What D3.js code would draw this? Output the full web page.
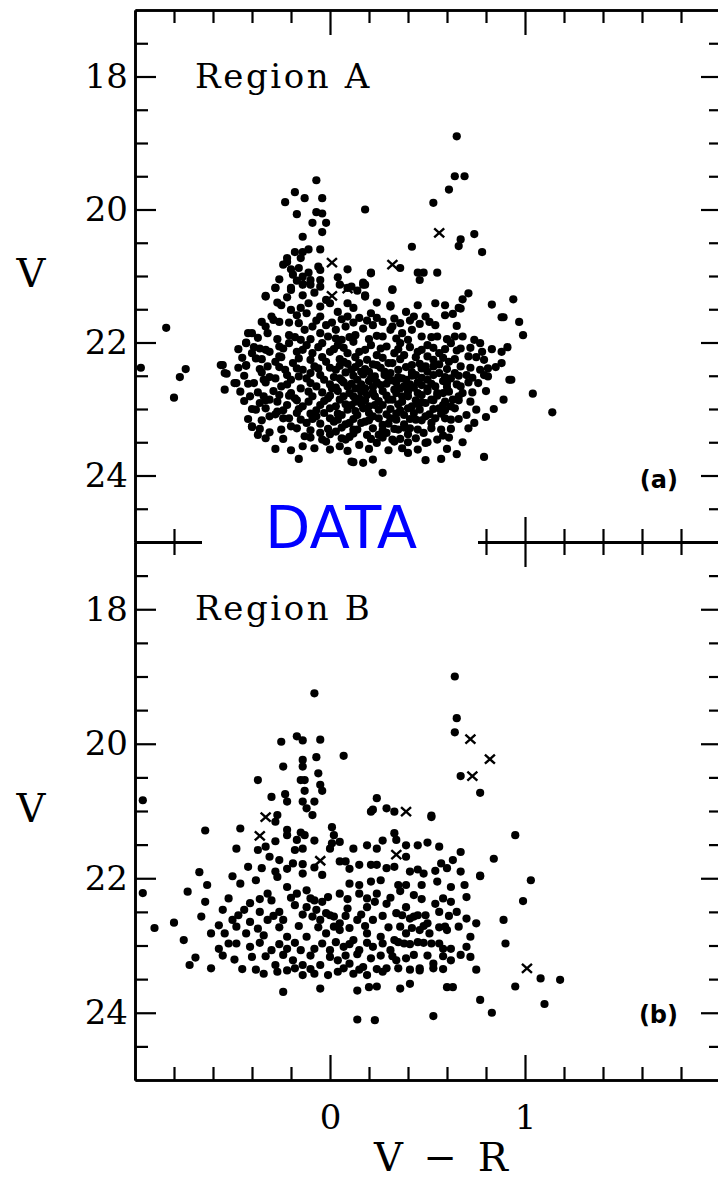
<!DOCTYPE html>
<html>
<head>
<meta charset="utf-8">
<script src="https://cdn.jsdelivr.net/npm/d3@7"></script>
<style>
  body { margin: 0; background: #fff; }
  svg { display: block; }
</style>
</head>
<body>
<svg id="chart"></svg>
<script>
'use strict'

// ---- data (V-R colour, V magnitude) ----
const xMajorTicks = [0, 1]
const xMinorTicks = [-0.8, -0.6, -0.4, -0.2, 0.2, 0.4, 0.6, 0.8, 1.2, 1.4, 1.6, 1.8]
const yMajorTicks = [18, 20, 22, 24]
const yMinorTicks = [17.5, 18.5, 19, 19.5, 20.5, 21, 21.5, 22.5, 23, 23.5, 24.5]

// region A: outskirts and plume
const regionADots = [
  [0.65,18.9],[0.64,19.5],[0.69,19.5],[0.61,19.7],[0.53,19.9],[0.18,20.0],
  [0.67,20.45],[0.66,20.55],[0.74,20.37],[0.78,20.64],[0.42,20.56],
  [0.36,20.88],[0.21,20.95],[0.17,21.1],[0.45,20.95],[0.48,20.95],[0.46,21.06],[0.55,20.95],[0.32,21.2],
  [0.71,21.26],[0.68,21.35],[0.66,21.48],[0.94,21.35],[0.83,21.43],[0.89,21.62],[0.97,21.69],[0.99,21.89],
  [0.88,22.14],[0.91,22.07],[0.88,22.31],[0.93,22.56],[1.04,22.77],[1.14,23.05],[0.89,22.86],[0.84,23.0],
  [0.8,23.12],[0.74,23.21],[0.7,23.09],[0.71,23.29],[0.68,23.5],[0.58,23.4],[0.79,23.72],[0.65,23.68],
  [0.57,23.75],[0.49,23.77],[0.4,23.66],[0.5,23.5],[0.4,23.5],
  [-0.84,21.78],[-0.74,22.4],[-0.77,22.52],[-0.8,22.83],[-0.97,22.38],[-0.56,22.34],[-0.53,22.47],
  [-0.54,22.71],[-0.48,22.61],[-0.43,22.35],[-0.42,21.86],[-0.43,22.0],[-0.33,21.3],[-0.28,21.18],
  [-0.4,23.27],[-0.37,23.39],[-0.31,23.35],[-0.16,23.75],[0.12,23.8],
  [-0.07,19.56],[-0.18,19.74],[-0.23,19.89],[-0.13,19.83],[-0.04,19.83],[-0.17,20.07],[-0.07,20.04],
  [-0.04,20.06],[-0.09,20.2],[-0.02,20.2],[-0.04,20.34],[-0.14,20.41],[-0.05,20.6],[-0.11,20.6],
  [-0.14,20.64],[-0.18,20.64],[-0.22,20.73],[-0.22,20.79],[-0.15,20.73],[-0.16,20.88],[-0.06,20.86],
  [0.09,20.9],[-0.19,20.98],
  [-0.14,21.01],[-0.1,21.06],[-0.05,20.91],[0.21,20.96],[0.17,21.13],[-0.2,21.18],[-0.14,21.13],
  [-0.05,21.06],[0.05,21.13],[0.11,21.16],[0.18,21.31],
  [-0.28,21.18],[-0.33,21.31],[-0.2,21.21],[-0.14,21.29],[-0.1,21.13],[-0.05,21.16],[0.09,21.18],
  [0.18,21.29],[0.18,21.13],[0.32,21.21],
  [-0.24,20.83],[-0.2,20.9],[-0.11,20.95],[-0.26,21.05],[-0.17,21.07],[-0.22,21.32],[-0.08,21.25],
  [0.04,21.02],[0.14,21.22],[0.24,21.4],[-0.27,21.4],[-0.15,21.48],[-0.02,21.36],[0.12,21.48],
  [-0.25,21.44],[-0.2,21.51],[-0.17,21.59],[-0.11,21.41],[-0.12,21.56],[-0.05,21.46],[-0.05,21.61],
  [0.0,21.41],[0.04,21.54],[0.09,21.41],[0.09,21.61],[0.15,21.63],[0.21,21.56],[0.24,21.63],[0.31,21.46],[-0.3,21.61],
  [-0.4,21.86],[-0.33,21.76],[-0.32,21.86],[-0.26,21.69],[-0.16,21.71],[-0.13,21.81],[-0.09,21.76],
  [-0.05,21.86],[-0.02,21.74],[0.03,21.81],[0.08,21.76],[0.13,21.89],[0.17,21.79],[0.22,21.74],
  [0.27,21.91],[0.31,21.81],[-0.21,21.89]
]

// region A: dense core of the diagram
const regionACore = [
  [-0.43,22.01],[-0.4,22.16],[-0.36,22.09],[-0.31,22.14],[-0.26,22.06],[-0.21,22.01],[-0.17,22.14],
  [-0.12,22.04],[-0.09,22.16],[-0.04,22.01],[0.0,22.14],[0.04,22.04],[0.09,22.16],[0.12,21.99],
  [0.15,22.14],[0.21,22.04],[0.24,22.19],[0.29,22.06],[0.33,22.16],[-0.15,21.96],[0.03,21.94],[-0.26,22.21],
  [-0.43,22.34],[-0.38,22.24],[-0.32,22.36],[-0.28,22.29],[-0.23,22.41],[-0.19,22.31],[-0.14,22.41],
  [-0.1,22.26],[-0.06,22.39],[-0.02,22.29],[0.03,22.41],[0.07,22.29],[0.11,22.41],[0.15,22.31],
  [0.2,22.44],[0.24,22.34],[0.28,22.44],[0.32,22.31],[-0.55,22.34],[-0.54,22.46],[-0.49,22.61],
  [-0.39,22.61],[-0.34,22.56],[-0.28,22.54],[-0.25,22.66],[-0.2,22.56],[-0.15,22.69],
  [-0.12,22.54],[-0.07,22.66],[-0.03,22.56],[0.01,22.69],[0.05,22.54],[0.09,22.66],[0.14,22.56],
  [0.18,22.69],[0.21,22.54],[0.26,22.64],[0.3,22.54],[0.33,22.71],
  [-0.41,22.81],[-0.36,22.91],[-0.31,22.86],[-0.26,22.79],[-0.22,22.94],[-0.18,22.84],[-0.14,22.96],
  [-0.09,22.81],[-0.05,22.94],[-0.01,22.84],[0.03,22.96],[0.07,22.81],[0.11,22.94],[0.15,22.84],
  [0.2,22.96],[0.23,22.81],[0.27,22.94],[0.32,22.86],
  [-0.38,23.01],[-0.31,23.11],[-0.27,23.04],[-0.21,23.14],[-0.17,23.06],[-0.12,23.21],[-0.07,23.11],
  [-0.03,23.06],[0.02,23.19],[0.06,23.09],[0.1,23.21],[0.14,23.09],[0.18,23.19],[0.22,23.11],
  [0.27,23.24],[0.31,23.14],
  [-0.4,23.26],[-0.2,23.26],[-0.13,23.41],[-0.14,23.56],[-0.05,23.36],
  [-0.02,23.49],[0.03,23.34],[0.08,23.46],[0.12,23.31],[0.15,23.54],[0.19,23.39],[0.24,23.51],
  [0.29,23.36],[0.33,23.49],[0.11,23.79],[0.17,23.81],[0.22,23.76],[0.27,23.96],[0.05,23.56],
  [0.31,21.44],[0.45,21.44],[0.54,21.41],[0.59,21.44],
  [0.33,21.64],[0.39,21.54],[0.43,21.61],[0.49,21.61],[0.51,21.69],[0.54,21.74],[0.59,21.59],
  [0.63,21.57],[0.65,21.75],[0.67,21.49],[0.88,21.62],
  [0.32,21.76],[0.37,21.86],[0.42,21.81],[0.47,21.91],[0.55,21.91],[0.68,21.91],[0.74,21.96],
  [0.77,22.01],[0.36,22.01],[0.5,22.04],[0.62,22.01],[0.67,22.09],
  [0.38,22.19],[0.45,22.14],[0.5,22.21],[0.56,22.16],[0.61,22.29],[0.71,22.21],
  [0.78,22.14],[0.79,22.26],[0.42,22.34],[0.49,22.36],[0.67,22.36],
  [0.37,22.54],[0.44,22.49],[0.5,22.56],[0.56,22.46],[0.62,22.54],[0.7,22.49],
  [0.76,22.61],[0.81,22.51],[0.81,22.39],[0.92,22.56],[0.38,22.66],[0.47,22.64],[0.54,22.66],[0.67,22.66],
  [0.4,22.81],[0.45,22.76],[0.52,22.86],[0.58,22.76],[0.63,22.86],[0.68,22.76],
  [0.42,22.96],[0.49,22.91],[0.56,22.99],[0.62,22.96],
  [0.38,23.09],[0.44,23.16],[0.49,23.11],[0.59,23.14],
  [0.35,23.31],[0.41,23.29],[0.48,23.36],[0.32,23.46],[0.49,23.51],
  [-0.35,21.69],[-0.29,21.66],[-0.21,21.7],[-0.07,21.67],[0.01,21.7],[0.06,21.65],[0.12,21.7],
  [0.19,21.67],[0.27,21.69],[0.36,21.71],[0.41,21.67],[0.46,21.72],
  [-0.37,21.93],[-0.27,21.95],[-0.18,21.92],[-0.1,21.95],[-0.01,21.91],[0.06,21.96],[0.1,21.92],
  [0.2,21.95],[0.24,21.9],[0.34,21.94],[0.4,21.96],[0.52,21.92],[0.6,21.95],[0.64,21.91],
  [-0.47,22.1],[-0.39,22.07],[-0.33,22.11],[-0.24,22.09],[-0.14,22.11],[-0.06,22.07],[0.02,22.1],
  [0.07,22.08],[0.18,22.11],[0.26,22.09],[0.35,22.1],[0.41,22.07],[0.47,22.11],[0.53,22.08],
  [0.59,22.1],[0.65,22.12],[0.72,22.08],[0.83,22.1],
  [-0.45,22.23],[-0.35,22.25],[-0.25,22.22],[-0.16,22.24],[-0.04,22.22],[0.05,22.25],[0.13,22.22],
  [0.19,22.26],[0.27,22.23],[0.36,22.25],[0.44,22.22],[0.53,22.26],[0.58,22.23],[0.64,22.25],[0.75,22.22],
  [-0.47,22.38],[-0.36,22.4],[-0.26,22.37],[-0.17,22.39],[-0.08,22.36],[0.0,22.38],[0.05,22.35],
  [0.13,22.37],[0.18,22.4],[0.26,22.38],[0.35,22.41],[0.39,22.37],[0.47,22.39],[0.53,22.36],
  [0.6,22.4],[0.72,22.38],[0.77,22.41],[0.85,22.37],
  [-0.44,22.5],[-0.31,22.52],[-0.22,22.49],[-0.16,22.51],[-0.05,22.49],[0.02,22.52],[0.12,22.5],
  [0.17,22.48],[0.23,22.51],[0.28,22.49],[0.35,22.52],[0.42,22.5],[0.47,22.53],[0.53,22.49],
  [0.59,22.52],[0.66,22.5],[0.73,22.53],[0.79,22.49],
  [-0.42,22.62],[-0.33,22.6],[-0.22,22.63],[-0.1,22.61],[0.0,22.63],[0.07,22.6],[0.11,22.62],
  [0.16,22.63],[0.24,22.6],[0.29,22.62],[0.34,22.6],[0.41,22.63],[0.45,22.6],[0.52,22.62],
  [0.6,22.61],[0.65,22.63],[0.71,22.6],
  [-0.46,22.74],[-0.37,22.75],[-0.29,22.73],[-0.2,22.76],[-0.11,22.74],[-0.04,22.75],[0.04,22.73],
  [0.1,22.76],[0.16,22.74],[0.22,22.75],[0.27,22.73],[0.34,22.76],[0.4,22.74],[0.5,22.73],
  [0.55,22.76],[0.61,22.74],[0.73,22.75],[0.8,22.73],
  [-0.44,22.88],[-0.33,22.87],[-0.27,22.89],[-0.17,22.87],[-0.11,22.89],[-0.03,22.88],[0.05,22.86],
  [0.13,22.89],[0.18,22.87],[0.25,22.88],[0.3,22.86],[0.37,22.89],[0.44,22.87],[0.47,22.9],
  [0.53,22.87],[0.59,22.89],[0.66,22.87],[0.72,22.89],
  [-0.4,23.0],[-0.33,22.99],[-0.24,23.02],[-0.16,23.0],[-0.07,23.02],[0.0,22.99],[0.09,23.01],
  [0.13,23.03],[0.17,22.99],[0.25,23.01],[0.31,23.0],[0.36,23.02],[0.4,22.99],[0.46,23.01],
  [0.53,23.0],[0.59,23.02],[0.64,22.99],[0.75,23.01],
  [-0.42,23.15],[-0.35,23.17],[-0.24,23.14],[-0.15,23.16],[-0.09,23.15],[0.0,23.14],[0.04,23.16],
  [0.12,23.15],[0.2,23.17],[0.25,23.14],[0.34,23.16],[0.41,23.15],[0.47,23.17],[0.54,23.14],
  [0.62,23.16],[0.66,23.15],
  [-0.36,23.3],[-0.25,23.31],[-0.17,23.29],[-0.1,23.32],[-0.01,23.3],[0.06,23.28],[0.14,23.31],
  [0.22,23.29],[0.27,23.32],[0.33,23.3],[0.38,23.28],[0.45,23.31],[0.52,23.29],[0.57,23.31],[0.62,23.3],
  [-0.33,23.44],[-0.24,23.45],[-0.1,23.43],[-0.04,23.46],[0.06,23.44],[0.1,23.42],[0.21,23.45],
  [0.27,23.43],[0.36,23.45],[0.44,23.44],[0.55,23.46],[0.61,23.43],
  [-0.28,23.6],[-0.2,23.62],[-0.08,23.59],[0.0,23.61],[0.09,23.63],[0.2,23.6],[0.3,23.62],
  [0.37,23.59],[0.45,23.61],[0.6,23.6],
  [0.09,22.32],[0.22,22.33],[0.3,22.31],[0.46,22.32],[0.56,22.33],
  [0.08,22.45],[0.16,22.44],[0.31,22.46],[0.42,22.45],[0.5,22.44],[0.64,22.46],
  [0.06,22.57],[0.2,22.58],[0.32,22.57],[0.39,22.56],[0.58,22.58],
  [0.03,22.68],[0.13,22.69],[0.22,22.67],[0.36,22.69],[0.43,22.68],[0.5,22.69],[0.6,22.67],
  [0.0,22.8],[0.12,22.81],[0.19,22.79],[0.29,22.8],[0.37,22.81],[0.47,22.79],[0.55,22.8],[0.66,22.81],
  [0.08,22.93],[0.16,22.92],[0.23,22.94],[0.35,22.93],[0.45,22.92],[0.58,22.94],
  [0.04,23.07],[0.2,23.06],[0.29,23.08],[0.34,23.07],[0.43,23.06],[0.51,23.08],[0.57,23.07],
  [-0.05,23.22],[0.08,23.23],[0.16,23.21],[0.3,23.22],[0.38,23.23],[0.52,23.21],
  [0.0,23.38],[0.12,23.37],[0.25,23.39],[0.4,23.38],
  [-0.35,22.45],[-0.1,22.46],[-0.21,22.8],[-0.34,22.81],[-0.1,23.07],[-0.28,23.08]
]
const regionACrosses = [[0.56,20.35],[0.32,20.83],[0.01,20.8],[-0.12,21.11],[0.01,21.3],[0.09,21.19]]

const regionBDots = [
  [0.64,19.0],[0.65,19.62],[0.64,19.83],[0.67,20.48],[0.77,20.73],[-0.08,19.25],
  [-0.96,20.84],[-0.96,22.22],[-0.9,22.74],[0.52,21.07],[0.77,21.97],
  [-0.25,19.97],[-0.17,19.89],[-0.14,19.95],[-0.05,19.94],
  [0.07,20.18],[-0.07,20.2],[-0.14,20.24],[-0.14,20.34],[-0.24,20.34],
  [-0.06,20.44],[-0.37,20.54],[-0.15,20.54],[-0.13,20.54],[-0.05,20.61],[-0.04,20.7],[-0.13,20.7],
  [-0.23,20.75],[-0.3,20.79],
  [-0.22,20.86],[0.24,20.81],[-0.14,20.86],[-0.08,20.86],[-0.12,20.96],[-0.09,21.06],[0.21,21.01],
  [0.29,20.96],[0.33,21.01],[0.52,21.09],[-0.27,21.06],[-0.28,21.16],[0.22,20.98],
  [-0.64,21.29],[-0.46,21.26],[-0.22,21.28],[-0.15,21.32],[-0.13,21.36],[0.01,21.24],[0.02,21.36],
  [0.01,21.48],[0.0,21.56],[-0.22,21.36],[-0.17,21.43],[0.33,21.33],[0.34,21.43],[0.95,21.36],
  [-0.48,21.56],[-0.37,21.58],[-0.33,21.53],[-0.18,21.58],[-0.14,21.56],[0.12,21.56],[0.19,21.51],
  [0.24,21.56],[0.39,21.51],[0.45,21.51],[0.56,21.53],[0.67,21.61],
  [-0.31,21.68],[-0.26,21.73],[-0.19,21.78],[-0.14,21.79],[0.05,21.75],[0.08,21.75],[0.15,21.8],
  [0.21,21.8],[0.24,21.8],[0.33,21.83],[0.39,21.68],[0.63,21.73],[0.84,21.71],[-0.42,21.83],
  [-0.38,22.03],[-0.28,21.9],[-0.14,21.93],[-0.04,21.95],[-0.67,21.91],[-0.5,21.97],[0.41,21.9],
  [0.48,21.93],[0.54,21.89],[0.57,21.78],[0.67,21.9],[0.77,21.96],[1.03,22.03],
  [-0.63,22.1],[-0.46,22.08],[-0.27,21.98],[-0.22,22.13],[-0.17,22.23],[-0.12,22.18],[-0.08,22.33],
  [-0.04,22.35],[0.05,22.23],[0.1,22.08],[0.15,22.1],[0.21,22.05],[0.26,22.03],[0.35,22.1],
  [0.39,22.1],[0.47,22.1],[0.55,22.05],[0.62,22.13],[0.69,22.1],[-0.73,22.2],[-0.32,22.23],
  [-0.3,22.33],[-0.41,22.37],[-0.64,22.35],[0.15,22.23],[0.24,22.23],[0.36,22.19],[0.43,22.25],
  [0.54,22.38],[0.62,22.35],[0.99,22.34],
  [-0.55,22.47],[-0.44,22.47],[-0.36,22.5],[-0.26,22.5],[-0.18,22.4],[-0.12,22.43],[-0.07,22.47],
  [-0.02,22.52],[0.02,22.57],[0.09,22.45],[0.19,22.43],[0.23,22.35],[0.29,22.38],[0.39,22.43],
  [0.45,22.55],[0.56,22.5],[0.65,22.5],[-0.66,22.57],[-0.5,22.62],[-0.41,22.65],[-0.32,22.62],
  [-0.24,22.62],[-0.05,22.62],[0.05,22.67],[0.14,22.62],[0.22,22.62],[0.34,22.52],[0.41,22.6],
  [0.5,22.67],[0.59,22.72],[0.7,22.6],[0.75,22.67],[0.89,22.62],[-0.8,22.66],[-0.57,22.7],
  [-0.61,22.82],[-0.54,22.82],[-0.43,22.82],[-0.37,22.75],[-0.34,22.85],[-0.22,22.87],[-0.12,22.87],
  [-0.02,22.82],[0.05,22.77],[0.12,22.92],[0.19,22.82],[0.26,22.87],[0.33,22.92],[0.39,22.82],
  [0.46,22.77],[0.51,22.82],[0.6,22.77],[0.72,22.87],[-0.75,22.92],[-0.57,23.05],[-0.48,22.97],
  [-0.41,23.02],[-0.3,23.07],[-0.22,23.05],[-0.15,23.07],[-0.08,23.05],[0.0,23.07],[0.07,23.02],
  [0.15,23.07],[0.22,23.02],[0.31,23.07],[0.38,22.97],[0.45,22.95],[0.52,22.97],[0.58,23.05],
  [0.62,23.05],[0.7,23.02],[0.9,22.97],
  [-0.69,23.18],[-0.72,23.29],[-0.61,23.34],[-0.49,23.21],[-0.4,23.17],[-0.28,23.29],[-0.19,23.22],
  [-0.14,23.29],[-0.05,23.29],[0.04,23.22],[0.1,23.27],[0.17,23.32],[0.21,23.19],[0.29,23.34],
  [0.34,23.22],[0.39,23.19],[0.46,23.34],[0.53,23.27],[0.62,23.22],[0.72,23.17],[0.75,23.36],
  [-0.34,23.42],[-0.27,23.39],[-0.22,23.37],[-0.14,23.44],[-0.08,23.42],[-0.01,23.44],[0.04,23.39],
  [0.12,23.42],[0.19,23.44],[0.27,23.39],[0.46,23.37],[0.53,23.34],[1.08,23.49],[1.18,23.51],
  [-0.24,23.69],[-0.05,23.64],[0.14,23.67],[0.2,23.62],[0.24,23.61],[0.36,23.64],[0.41,23.57],
  [0.6,23.62],[0.63,23.62],[0.95,23.61],[0.77,23.81],[1.1,23.87],[0.83,24.0],[0.53,24.05],
  [0.14,24.1],[0.23,24.11],
  [-0.28,21.45],[-0.08,21.44],[0.05,21.46],[0.27,21.44],[0.5,21.47],
  [-0.35,21.85],[-0.22,21.86],[-0.08,21.84],[0.1,21.86],[0.29,21.85],[0.45,21.87],[0.6,21.85],
  [-0.52,22.3],[-0.36,22.31],[-0.2,22.29],[-0.1,22.3],[-0.01,22.28],[0.09,22.31],[0.19,22.3],
  [0.31,22.29],[0.47,22.31],[0.58,22.3],[0.7,22.28],
  [-0.47,22.55],[-0.29,22.56],[-0.14,22.54],[-0.09,22.57],[0.0,22.55],[0.08,22.56],[0.16,22.54],
  [0.27,22.56],[0.37,22.55],[0.43,22.57],[0.49,22.55],[0.61,22.56],
  [-0.48,22.72],[-0.26,22.73],[-0.16,22.71],[-0.06,22.73],[0.02,22.72],[0.1,22.74],[0.18,22.71],
  [0.3,22.73],[0.36,22.72],[0.42,22.74],[0.48,22.71],[0.56,22.73],[0.66,22.72],
  [-0.52,22.97],[-0.36,22.96],[-0.26,22.98],[-0.18,22.96],[-0.04,22.97],[0.03,22.95],[0.1,22.98],
  [0.19,22.96],[0.27,22.97],[0.35,22.95],[0.41,22.98],[0.48,22.96],[0.56,22.97],
  [-0.55,23.15],[-0.33,23.16],[-0.24,23.14],[-0.1,23.15],[0.0,23.17],[0.08,23.15],[0.14,23.13],
  [0.26,23.15],[0.32,23.16],[0.43,23.14],[0.5,23.15],[0.58,23.16],[0.67,23.14],
  [-0.45,23.35],[-0.38,23.36],[-0.18,23.34],[-0.1,23.35],[0.07,23.34],[0.15,23.36],[0.24,23.35],
  [0.35,23.34],[0.41,23.36],[0.58,23.35]
]
const regionBCrosses = [[0.72,19.93],[0.82,20.23],[0.73,20.48],[-0.33,21.09],[-0.36,21.37],
  [-0.05,21.74],[0.39,21.01],[0.34,21.65],[1.01,23.34]]

// ---- layout ----
const width = 718, height = 1183
const serif = 'DejaVu Serif'

const svg = d3.select('#chart').attr('width', width).attr('height', height)
svg.append('rect').attr('width', width).attr('height', height).attr('fill', '#fff')

const x = d3.scaleLinear().domain([-1, 2]).range([135, 720])
const yA = d3.scaleLinear().domain([17, 25]).range([10, 542])
const yB = d3.scaleLinear().domain([17, 25]).range([542, 1080])

function styleAxis(g) {
  g.select('.domain').attr('stroke-width', 2.6)
  g.selectAll('.tick line').attr('stroke-width', 2.2)
  g.attr('font-family', serif).attr('font-size', 34)
}

function drawPanel(y, dots, crosses, name, tag, tagY, bottomLabels) {
  const g = svg.append('g')
  const [top, bottom] = y.range()

  // left axis with labels
  g.append('g').attr('transform', `translate(${x(-1)},0)`)
    .call(d3.axisLeft(y).tickValues(yMajorTicks).tickSize(-21).tickSizeOuter(0).tickPadding(7).tickFormat(d3.format('d')))
    .call(styleAxis)
  g.append('g').attr('transform', `translate(${x(-1)},0)`)
    .call(d3.axisLeft(y).tickValues(yMinorTicks).tickSize(-13).tickSizeOuter(0).tickFormat(''))
    .call(styleAxis)
  // right axis
  g.append('g').attr('transform', `translate(${x(2)},0)`)
    .call(d3.axisRight(y).tickValues(yMajorTicks).tickSize(-19).tickSizeOuter(0).tickFormat(''))
    .call(styleAxis)
  g.append('g').attr('transform', `translate(${x(2)},0)`)
    .call(d3.axisRight(y).tickValues(yMinorTicks).tickSize(-11).tickSizeOuter(0).tickFormat(''))
    .call(styleAxis)
  // top axis
  g.append('g').attr('transform', `translate(0,${top})`)
    .call(d3.axisTop(x).tickValues(xMajorTicks).tickSize(-25).tickSizeOuter(0).tickFormat(''))
    .call(styleAxis)
  g.append('g').attr('transform', `translate(0,${top})`)
    .call(d3.axisTop(x).tickValues(xMinorTicks).tickSize(-13).tickSizeOuter(0).tickFormat(''))
    .call(styleAxis)
  // bottom axis
  g.append('g').attr('transform', `translate(0,${bottom})`)
    .call(d3.axisBottom(x).tickValues(xMajorTicks).tickSize(-25).tickSizeOuter(0).tickPadding(25)
      .tickFormat(bottomLabels ? d3.format('d') : ''))
    .call(styleAxis)
  g.append('g').attr('transform', `translate(0,${bottom})`)
    .call(d3.axisBottom(x).tickValues(xMinorTicks).tickSize(-13).tickSizeOuter(0).tickFormat(''))
    .call(styleAxis)

  // dots
  g.append('g').selectAll('circle').data(dots).enter().append('circle')
    .attr('cx', d => x(d[0])).attr('cy', d => y(d[1])).attr('r', 4.1).attr('fill', '#000')
  // crosses
  g.append('g').selectAll('path').data(crosses).enter().append('path')
    .attr('transform', d => `translate(${x(d[0])},${y(d[1])})`)
    .attr('d', 'M-5,-4.5L5,4.5M5,-4.5L-5,4.5')
    .attr('stroke', '#000').attr('stroke-width', 2.4).attr('fill', 'none')

  // texts
  g.append('text').attr('x', 195).attr('y', top + 78)
    .attr('font-family', serif).attr('font-size', 34).attr('letter-spacing', 2.6)
    .text(name)
  g.append('text').attr('x', 31).attr('y', y(21.17)).attr('text-anchor', 'middle')
    .attr('font-family', serif).attr('font-size', 40).text('V')
  g.append('text').attr('x', 678).attr('y', tagY).attr('text-anchor', 'end')
    .attr('font-family', 'DejaVu Sans').attr('font-weight', 'bold').attr('font-size', 24)
    .text(tag)
}

drawPanel(yA, regionADots.concat(regionACore), regionACrosses, 'Region A', '(a)', 488, false)
drawPanel(yB, regionBDots, regionBCrosses, 'Region B', '(b)', 1023, true)

// x axis title
svg.append('text').attr('x', 443).attr('y', 1171).attr('text-anchor', 'middle')
  .attr('font-family', serif).attr('font-size', 40).attr('letter-spacing', 4)
  .text('V \u2212 R')

// "DATA" stamp over the shared axis
svg.append('rect').attr('x', 202).attr('y', 496).attr('width', 276).attr('height', 78).attr('fill', '#fff')
svg.append('text').attr('x', 341).attr('y', 548).attr('text-anchor', 'middle')
  .attr('font-family', 'DejaVu Sans').attr('font-size', 58).attr('fill', '#0000ff')
  .attr('textLength', 152).attr('lengthAdjust', 'spacingAndGlyphs')
  .text('DATA')
</script>
</body>
</html>
